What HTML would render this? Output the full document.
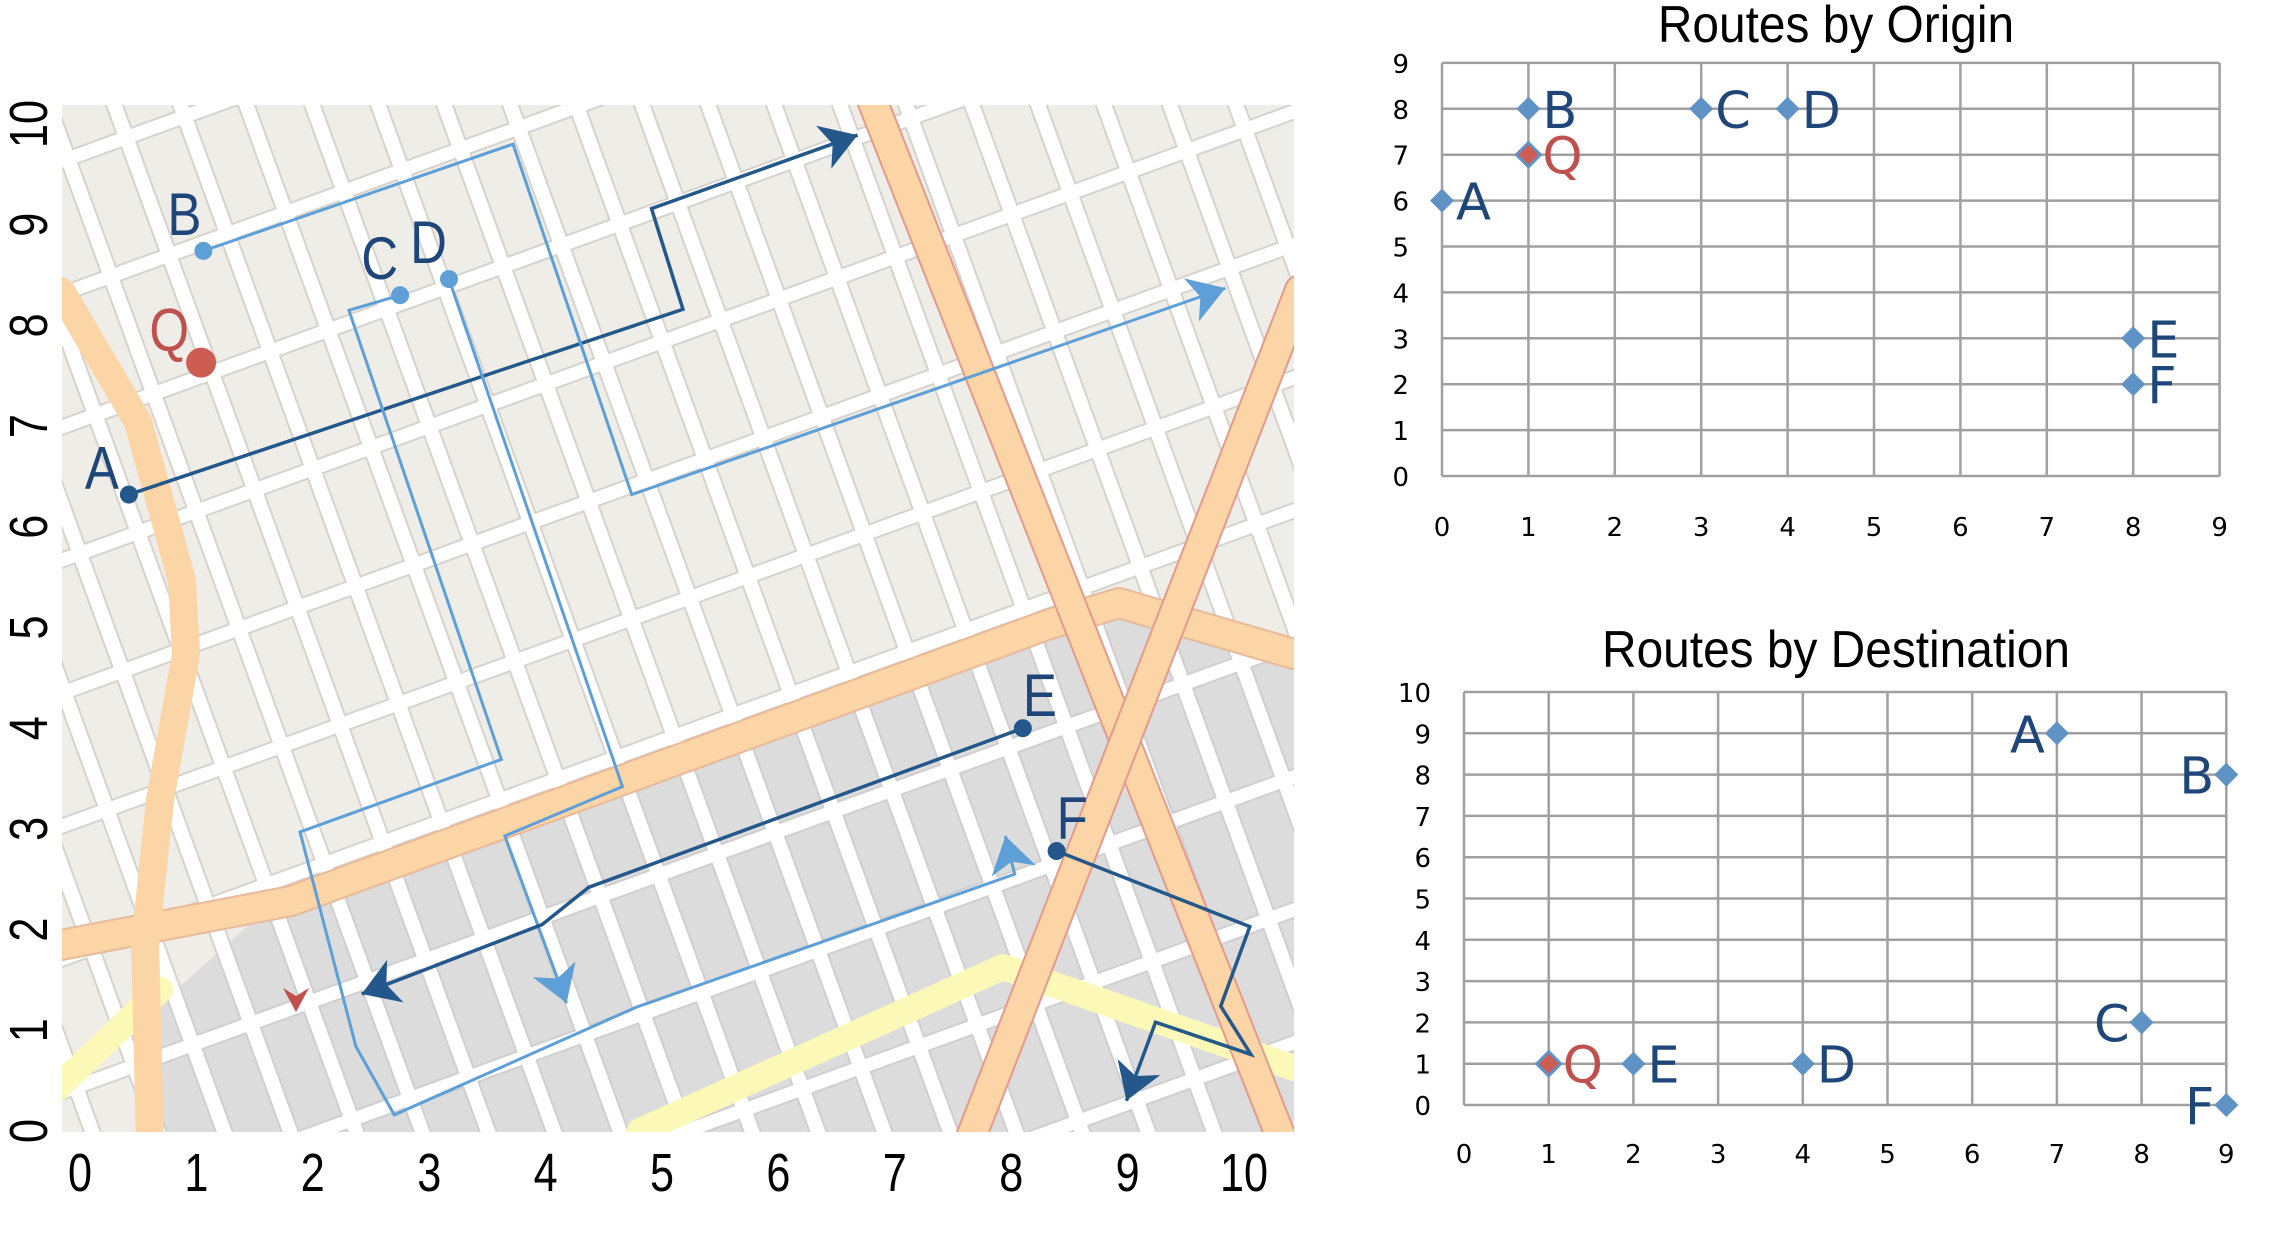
<!DOCTYPE html>
<html><head><meta charset="utf-8"><style>
html,body{margin:0;padding:0;background:#fff;}
svg{display:block;font-family:"Liberation Sans",sans-serif;}
</style></head><body>
<svg id="root" width="2278" height="1242" viewBox="0 0 2278 1242">
<defs>
  <pattern id="streets" width="62" height="125" patternUnits="userSpaceOnUse" patternTransform="rotate(-20 600 600)">
    <rect width="62" height="125" fill="#ffffff"/>
    <rect x="11" y="11" width="46" height="110" fill="#efede8" stroke="#d6d3ce" stroke-width="2"/>
  </pattern>
  <pattern id="streetsGray" width="62" height="125" patternUnits="userSpaceOnUse" patternTransform="rotate(-20 600 600)">
    <rect width="62" height="125" fill="#ffffff"/>
    <rect x="11" y="11" width="46" height="110" fill="#dcdcdc" stroke="#cfcfcf" stroke-width="2"/>
  </pattern>
  <clipPath id="mapclip"><rect x="62" y="105" width="1232" height="1027"/></clipPath>
  <marker id="arrDark" viewBox="0 0 10 10" refX="8" refY="5" markerWidth="12" markerHeight="12" markerUnits="userSpaceOnUse" orient="auto" style="overflow:visible">
    <path d="M-22,-14 L8,5 L-22,24 L-14,5 Z" fill="#24588a"/>
  </marker>
  <marker id="arrLight" viewBox="0 0 10 10" refX="8" refY="5" markerWidth="12" markerHeight="12" markerUnits="userSpaceOnUse" orient="auto" style="overflow:visible">
    <path d="M-22,-14 L8,5 L-22,24 L-14,5 Z" fill="#5f9fd8"/>
  </marker>
</defs>

<g id="map" clip-path="url(#mapclip)">
  <rect x="62" y="105" width="1232" height="1027" fill="url(#streets)"/>
  <polygon points="291,887 1105,610 1294,640 1294,1132 145,1132 145,1018" fill="url(#streetsGray)"/>
  <g fill="none" stroke-linejoin="round" stroke-linecap="round">
    <polyline points="61,945 291,901 1047,625 1119,603 1294,654" stroke="#e8b99a" stroke-width="32"/>
    <polyline points="61,945 291,901 1047,625 1119,603 1294,654" stroke="#fbd5a6" stroke-width="28"/>
    <polyline points="50,1095 160,990" stroke="#fcf9b8" stroke-width="26"/>
    <polyline points="640,1131 1003,967 1294,1068" stroke="#fcf9b8" stroke-width="26"/>
    <polyline points="61,291 138,422 182,581 186,654 160,800 145,945 150,1140" stroke="#fbd5a6" stroke-width="28"/>
    <line x1="872" y1="100" x2="1282" y2="1140" stroke="#e49a8c" stroke-width="32"/>
    <line x1="872" y1="100" x2="1282" y2="1140" stroke="#fbd5a6" stroke-width="28"/>
    <line x1="1300" y1="290" x2="970" y2="1140" stroke="#e49a8c" stroke-width="32"/>
    <line x1="1300" y1="290" x2="970" y2="1140" stroke="#fbd5a6" stroke-width="28"/>
  </g>
  <g id="routes"></g>
  <polygon points="283,988 296,1012 309,988 296,996" fill="#c0504d"/>
</g>
<g id="mapAxes"></g>
<g id="originChart"></g>
<g id="destChart"></g>
</svg>
<script>
const NS="http://www.w3.org/2000/svg";
// ---- map data (map units) ----
const mapXTicks=[0,1,2,3,4,5,6,7,8,9,10];
const mapYTicks=[0,1,2,3,4,5,6,7,8,9,10];
const mapPointNames=["A","B","C","D","E","F"];
const mapPointX=[0.42,1.06,2.75,3.17,8.10,8.39];
const mapPointY=[6.32,8.74,8.30,8.46,4.00,2.78];
const mapPointTone=["dark","light","light","light","dark","dark"];
const queryX=[1.04];
const queryY=[7.63];
const routeAX=[0.42,5.18,4.91,6.68];
const routeAY=[6.32,8.16,9.16,9.89];
const routeBX=[1.06,3.72,4.74,9.84];
const routeBY=[8.74,9.80,6.32,8.37];
const routeCX=[2.75,2.31,3.62,1.89,2.37,2.70,4.78,8.03,7.95];
const routeCY=[8.30,8.15,3.69,2.97,0.84,0.16,1.23,2.55,2.93];
const routeDX=[3.17,4.66,3.65,4.18];
const routeDY=[8.46,3.42,2.93,1.27];
const routeEX=[8.10,4.37,3.97,2.42];
const routeEY=[4.00,2.42,2.05,1.36];
const routeFX=[8.39,10.05,9.80,10.06,9.24,8.99];
const routeFY=[2.78,2.03,1.24,0.76,1.08,0.30];
// ---- origin chart ----
const originNames=["A","B","Q","C","D","E","F"];
const originX=[0,1,1,3,4,8,8];
const originY=[6,8,7,8,8,3,2];
const originXTicks=[0,1,2,3,4,5,6,7,8,9];
const originYTicks=[0,1,2,3,4,5,6,7,8,9];
// ---- destination chart ----
const destNames=["A","B","C","F","Q","E","D"];
const destX=[7,9,8,9,1,2,4];
const destY=[9,8,2,0,1,1,1];
const destLabelSide=["left","left","left","left","right","right","right"];
const destXTicks=[0,1,2,3,4,5,6,7,8,9];
const destYTicks=[0,1,2,3,4,5,6,7,8,9,10];

const DARK="#24588a", LIGHT="#5f9fd8", RED="#c0504d", LBL="#1f4678", DIA="#5f93c6";
function mk(tag,attrs,parent){const e=document.createElementNS(NS,tag);for(const k in attrs)e.setAttribute(k,attrs[k]);if(parent)parent.appendChild(e);return e;}
function mx(v){return 80+116.4*v;}
function my(v){return 1131-100.7*v;}

const routesG=document.getElementById('routes');
const routeList=[[routeAX,routeAY,"dark","route-a"],[routeBX,routeBY,"light","route-b"],[routeCX,routeCY,"light","route-c"],[routeDX,routeDY,"light","route-d"],[routeEX,routeEY,"dark","route-e"],[routeFX,routeFY,"dark","route-f"]];
routeList.forEach(r=>{
  const pts=r[0].map((x,i)=>mx(x)+","+my(r[1][i])).join(" ");
  const pl=mk('polyline',{points:pts,fill:"none",stroke:r[2]=="dark"?DARK:LIGHT,"stroke-width":r[2]=="dark"?3.5:3,"stroke-linejoin":"miter","marker-end":r[2]=="dark"?"url(#arrDark)":"url(#arrLight)"},routesG);
  
  
});
function mapLabel(txt,x,y,anchor,color){
  const t=mk('text',{x:0,y:0,"font-size":60,fill:color,"text-anchor":anchor,transform:`translate(${x},${y}) scale(0.85,1)`},routesG);
  t.textContent=txt;
  return t;
}
mapPointNames.forEach((n,i)=>{
  const c=mk('circle',{cx:mx(mapPointX[i]),cy:my(mapPointY[i]),r:9,fill:mapPointTone[i]=="dark"?DARK:LIGHT},routesG);
  
  
  let dx=-2, dy=-16, anchor="end";
  if(n=="E"||n=="F"){dx=0;dy=-12;anchor="start";}
  if(n=="A"){dx=-10;dy=-6;}
  const t=mapLabel(n,mx(mapPointX[i])+dx,my(mapPointY[i])+dy,anchor,LBL);
  
  
});
const qc=mk('circle',{cx:mx(queryX[0]),cy:my(queryY[0]),r:15,fill:"#cd5c52"},routesG);


const qt=mapLabel("Q",mx(queryX[0])-12,my(queryY[0])-12,"end",RED);



const ma=document.getElementById('mapAxes');
mapXTicks.forEach(v=>{
  const t=mk('text',{x:0,y:0,"font-size":54,"text-anchor":"middle",fill:"#000",transform:`translate(${mx(v)},1191) scale(0.8,1)`},ma);
  t.textContent=v;
  
  
});
mapYTicks.forEach(v=>{
  const t=mk('text',{x:0,y:0,"font-size":54,"text-anchor":"middle",fill:"#000",transform:`translate(47,${my(v)}) rotate(-90) scale(0.8,1)`},ma);
  t.textContent=v;
  
  
});

function scatter(gid,cfg){
  const g=document.getElementById(gid);
  const sx=v=>cfg.x0+cfg.ux*v, sy=v=>cfg.y0-cfg.uy*v;
  const title=mk('text',{x:0,y:0,"font-size":52,"text-anchor":"middle",fill:"#000",transform:`translate(1836,${cfg.titleY}) scale(0.92,1)`},g);
  title.textContent=cfg.title;
  
  
  cfg.xt.forEach(v=>{
    const l=mk('line',{x1:sx(v),x2:sx(v),y1:sy(cfg.yt[cfg.yt.length-1]),y2:sy(0),stroke:"#a0a0a0","stroke-width":2.5},g);
    
    
    const t=mk('text',{x:sx(v),y:cfg.xlY,"font-size":26,"font-family":"DejaVu Sans, sans-serif","text-anchor":"middle",fill:"#000"},g);
    t.textContent=v;
    
    
  });
  cfg.yt.forEach(v=>{
    const l=mk('line',{x1:sx(0),x2:sx(cfg.xt[cfg.xt.length-1]),y1:sy(v),y2:sy(v),stroke:"#a0a0a0","stroke-width":2.5},g);
    
    
    const t=mk('text',{x:cfg.ylX,y:sy(v)+10,"font-size":26,"font-family":"DejaVu Sans, sans-serif","text-anchor":"end",fill:"#000"},g);
    t.textContent=v;
    
    
  });
  cfg.names.forEach((n,i)=>{
    const cx=sx(cfg.xs[i]), cy=sy(cfg.ys[i]), isQ=n=="Q";
    const d=mk('polygon',{points:`${cx},${cy-12} ${cx+12},${cy} ${cx},${cy+12} ${cx-12},${cy}`,fill:isQ?"#cd5c52":DIA,stroke:DIA,"stroke-width":isQ?3:0},g);
    
    
    const left=cfg.side[i]=="left";
    const t=mk('text',{x:left?cx-12:cx+14,y:cy+19,"font-size":51,"font-family":"DejaVu Sans, sans-serif","text-anchor":left?"end":"start",fill:isQ?RED:LBL},g);
    t.textContent=n;
    
    
  });
}
scatter('originChart',{title:"Routes by Origin",titleY:42,x0:1442,ux:86.4,y0:476,uy:45.9,xt:originXTicks,yt:originYTicks,xlY:536,ylX:1409,names:originNames,xs:originX,ys:originY,side:originNames.map(()=>"right")});
scatter('destChart',{title:"Routes by Destination",titleY:667,x0:1464,ux:84.7,y0:1105,uy:41.3,xt:destXTicks,yt:destYTicks,xlY:1163,ylX:1431,names:destNames,xs:destX,ys:destY,side:destLabelSide});
</script>
</body></html>
